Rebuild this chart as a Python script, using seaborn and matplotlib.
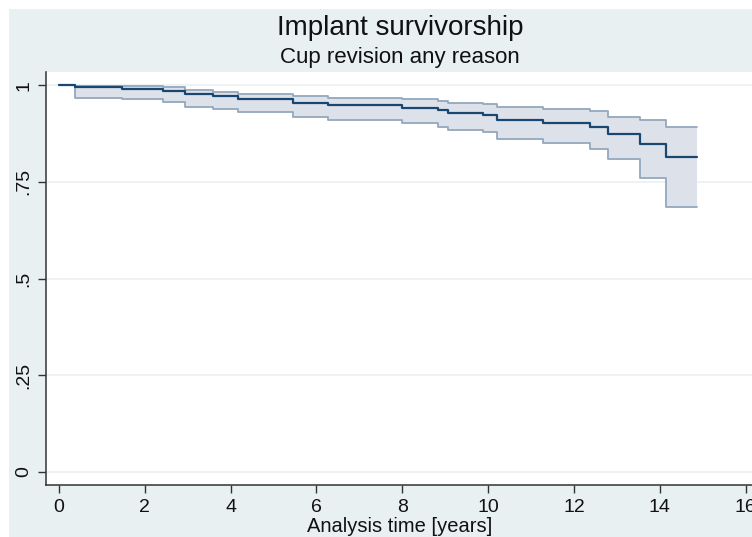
import numpy as np
import pandas as pd
import matplotlib.pyplot as plt
import seaborn as sns
from matplotlib.patches import Rectangle

# Kaplan-Meier steps (years, survival, 95% CI)
step_time = [0, 0.37, 1.46, 2.43, 2.94, 3.59, 4.17, 5.45, 6.27, 7.99,
             8.83, 9.07, 9.88, 10.2, 11.28, 12.38, 12.8, 13.54, 14.15, 14.87]
survival = [1.0, 0.996, 0.990, 0.985, 0.976, 0.972, 0.965, 0.953, 0.948, 0.941,
            0.935, 0.928, 0.922, 0.910, 0.903, 0.891, 0.874, 0.849, 0.813, 0.813]
ci_upper = [1.0, 0.998, 0.997, 0.994, 0.987, 0.983, 0.978, 0.972, 0.967, 0.964,
            0.960, 0.955, 0.951, 0.944, 0.939, 0.933, 0.918, 0.910, 0.891, 0.891]
ci_lower = [1.0, 0.968, 0.963, 0.957, 0.944, 0.938, 0.931, 0.917, 0.910, 0.903,
            0.892, 0.885, 0.879, 0.862, 0.851, 0.834, 0.809, 0.761, 0.684, 0.684]

x_ticks = [0, 2, 4, 6, 8, 10, 12, 14, 16]
y_ticks = [0, 0.25, 0.5, 0.75, 1]
y_tick_labels = ['0', '.25', '.5', '.75', '1']

df = pd.DataFrame({'time': step_time, 'surv': survival,
                   'upper': ci_upper, 'lower': ci_lower})

sns.set_theme(style='white')
plt.rcParams['font.family'] = ['Liberation Sans', 'DejaVu Sans']

bg = '#e8f0f2'
line_col = '#1a476f'
band_fill = '#dde2ea'
band_edge = '#93a8bd'

fig = plt.figure(figsize=(7.52, 5.37), dpi=100, facecolor='white')
# bluish graph region, white margin on the left and top
fig.patches.append(Rectangle((9 / 752, 0), 1, (537 - 9) / 537,
                             transform=fig.transFigure, facecolor=bg,
                             edgecolor='none', zorder=-5))
ax = fig.add_axes([46 / 752, 52 / 537, 1 - 46 / 752, (485 - 72) / 537])
ax.set_zorder(2)
ax.set_facecolor('white')

# confidence band
ax.fill_between(df['time'], df['lower'], df['upper'], step='post',
                color=band_fill, linewidth=0, zorder=2)
sns.lineplot(data=df, x='time', y='upper', drawstyle='steps-post',
             estimator=None, color=band_edge, linewidth=1.3, ax=ax, zorder=3)
sns.lineplot(data=df, x='time', y='lower', drawstyle='steps-post',
             estimator=None, color=band_edge, linewidth=1.3, ax=ax, zorder=3)
sns.lineplot(data=df, x='time', y='surv', drawstyle='steps-post',
             estimator=None, color=line_col, linewidth=1.6, ax=ax, zorder=4)

ax.set_xlim(-0.30, 16.15)
ax.set_ylim(-0.034, 1.034)
ax.set_xticks(x_ticks)
ax.set_yticks(y_ticks)
ax.set_yticklabels(y_tick_labels, rotation=90, va='center')
ax.tick_params(axis='both', direction='out', length=6, width=1,
               color='#333333', labelsize=14, labelcolor='#111111', pad=4)
ax.tick_params(axis='x', bottom=True)
ax.tick_params(axis='y', left=True)

for y in y_ticks:
    ax.axhline(y, color='#eaf1f3', linewidth=1.2, zorder=1)

for side in ['top', 'right']:
    ax.spines[side].set_visible(False)
for side in ['left', 'bottom']:
    ax.spines[side].set_color('#333333')
    ax.spines[side].set_linewidth(1.1)

ax.set_xlabel('')
ax.set_ylabel('')

fig.text(0.532, 1 - 35 / 537, 'Implant survivorship', ha='center',
         va='baseline', fontsize=20, color='#111111')
fig.text(0.532, 1 - 63 / 537, 'Cup revision any reason', ha='center',
         va='baseline', fontsize=16, color='#111111')
fig.text(0.532, 1 - 532 / 537, 'Analysis time [years]', ha='center',
         va='baseline', fontsize=14.5, color='#111111')

fig.savefig('out.png', dpi=100, facecolor=fig.get_facecolor())
